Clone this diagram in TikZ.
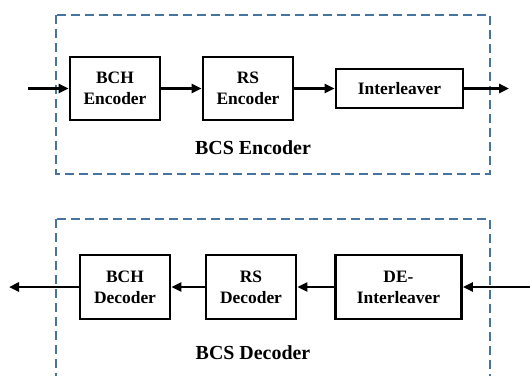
\documentclass[tikz,border=0pt]{standalone}
\usepackage{fontspec}
\setmainfont{Liberation Serif}
\usetikzlibrary{
  arrows.meta,  % Triangle 箭头
  positioning   % 节点相对定位
}

\begin{document}
\begin{tikzpicture}[>={Triangle[length=10bp,width=9bp]}, x=1bp, y=-1bp,
  blk/.style={draw, line width=2.8bp, rectangle, align=center,
    font=\fontsize{17.5}{21}\selectfont\bfseries, inner sep=0pt},
  flow/.style={->, line width=2.8bp},
  frame/.style={draw=framecol, line width=1.4bp, dash pattern=on 9bp off 5bp},
  title/.style={font=\fontsize{20}{24}\selectfont\bfseries}]
  \definecolor{framecol}{RGB}{70,115,160}
  \useasboundingbox (0,0) rectangle (530,375);

  % ===== 编码器 =====
  \draw[frame] (56,15) rectangle (490,174);
  \node[blk, minimum width=90bp, minimum height=63bp] (bchenc) at (115,88.5) {BCH\\Encoder};
  \node[blk, minimum width=90bp, minimum height=63bp] (rsenc) at (248,88.5) {RS\\Encoder};
  \node[blk, minimum width=127bp, minimum height=39bp] (intl) at (399.5,88.5) {Interleaver};
  \node[title] (enctitle) at (253,148) {BCS Encoder};

  \coordinate (encin) at (28,88.5);
  \coordinate (encout) at (509,88.5);
  \draw[flow] (encin) -- (bchenc);
  \draw[flow] (bchenc) -- (rsenc);
  \draw[flow] (rsenc) -- (intl);
  \draw[flow] (intl) -- (encout);

  % ===== 解码器 =====
  \draw[frame] (56,219) rectangle (490,392);
  \node[blk, minimum width=90bp, minimum height=64bp] (bchdec) at (125,287) {BCH\\Decoder};
  \node[blk, minimum width=90bp, minimum height=64bp] (rsdec) at (251,287) {RS\\Decoder};
  \node[blk, minimum width=126bp, minimum height=64bp] (deintl) at (398.5,287) {DE-\\Interleaver};
  \node[title] (dectitle) at (253,353) {BCS Decoder};

  \coordinate (decin) at (532,287);
  \coordinate (decout) at (9,287);
  \draw[flow] (decin) -- (deintl);
  \draw[flow] (deintl) -- (rsdec);
  \draw[flow] (rsdec) -- (bchdec);
  \draw[flow] (bchdec) -- (decout);
\end{tikzpicture}
\end{document}
